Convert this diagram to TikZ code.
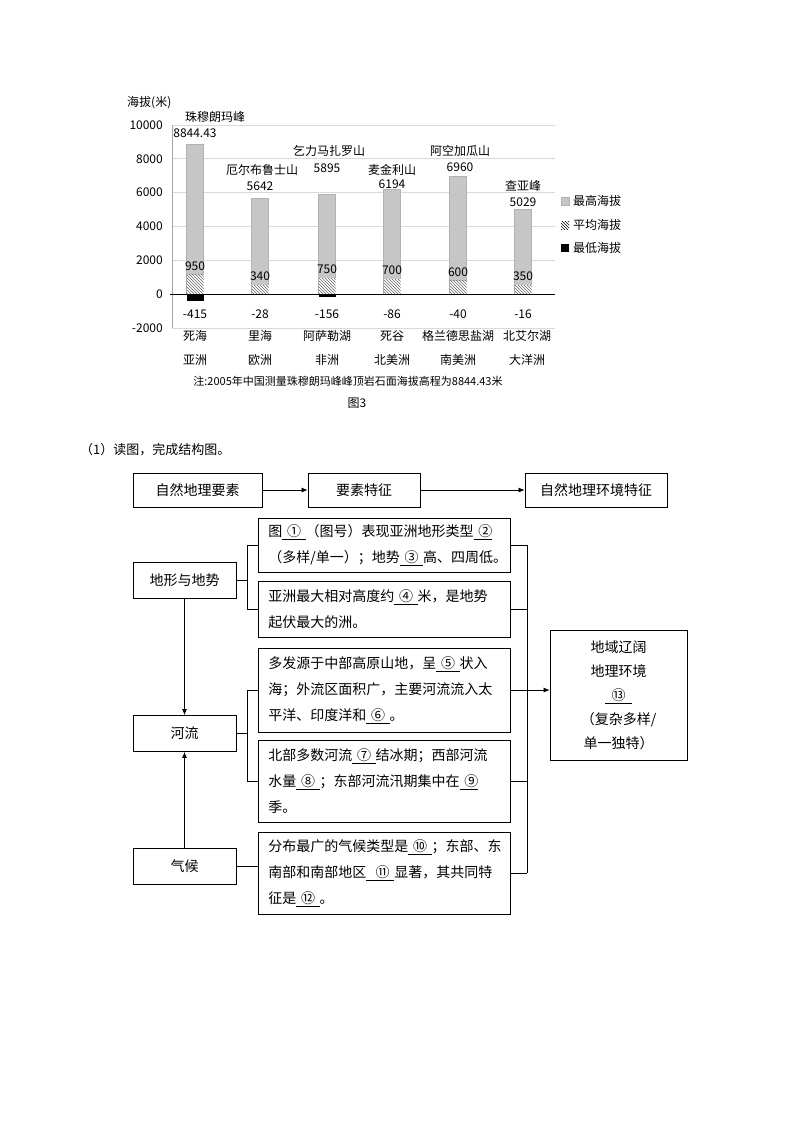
\documentclass[tikz,border=0pt]{standalone}
\usepackage{fontspec}
\setmainfont{Noto Sans CJK SC}
\usetikzlibrary{patterns,arrows.meta}
\begin{document}
\begin{tikzpicture}[x=1pt,y=-1pt,
  lab/.style={font=\fontsize{12}{14}\selectfont,inner sep=0pt},
  fbox/.style={draw,line width=0.8pt,font=\fontsize{14}{16}\selectfont},
  mbox/.style={draw,line width=0.8pt,minimum width=252pt,text width=232pt,align=left,font=\fontsize{14}{26}\selectfont,inner sep=0pt,anchor=north west},
  ln/.style={line width=0.7pt},
  arr/.style={ln,-{Latex[length=6pt,width=5pt]}}]
\useasboundingbox (0,0) rectangle (800,1132);
% ---------- chart ----------
\foreach \v in {2000,4000,6000,8000,10000}
  \draw[gray!30,line width=0.6pt] (172,{294-\v*0.0169}) -- (555,{294-\v*0.0169});
\draw[gray!30] (172,328) -- (555,328);
\draw[gray!70,line width=0.6pt] (172,125) -- (172,328);
\foreach \v/\t in {10000/10000,8000/8000,6000/6000,4000/4000,2000/2000,0/0,-2000/-2000}
  \node[lab,anchor=east] (yl\t) at (163,{294-\v*0.0169}) {\t};
\node[lab,anchor=west] (ytitle) at (127,103) {海拔(米)};
\foreach \i/\x/\h/\a/\l in {1/195/8844.43/950/415,2/260/5642/340/28,3/327/5895/750/156,4/392/6194/700/86,5/458/6960/600/40,6/523/5029/350/16}{
  \fill[gray!45,draw=gray!60] (\x-8.5,294) rectangle (\x+8.5,{294-\h*0.0169});
  \fill[white] (\x-8.5,294) rectangle (\x+8.5,{294-\a*0.0169-3});
  \fill[pattern=north west lines,pattern color=gray!80!black] (\x-8.5,294) rectangle (\x+8.5,{294-\a*0.0169-3});
  \fill[black] (\x-8.5,294) rectangle (\x+8.5,{294+\l*0.0169});
  \node[lab] (avg\i) at (\x,{294-\a*0.0169-12}) {\a};
  \node[lab] (low\i) at (\x,314) {-\l};
}
\draw[line width=1pt] (170,294) -- (555,294);
\node[lab] (p1) at (215,117) {珠穆朗玛峰};
\node[lab] (v1) at (195,133) {8844.43};
\node[lab] (p2) at (262,170) {厄尔布鲁士山};
\node[lab] (v2) at (260,186) {5642};
\node[lab] (p3) at (329,151) {乞力马扎罗山};
\node[lab] (v3) at (327,168) {5895};
\node[lab] (p4) at (392,170) {麦金利山};
\node[lab] (v4) at (392,184) {6194};
\node[lab] (p5) at (460,151) {阿空加瓜山};
\node[lab] (v5) at (460,167) {6960};
\node[lab] (p6) at (523,186) {查亚峰};
\node[lab] (v6) at (523,202) {5029};
\foreach \i/\x/\lk/\c in {1/195/死海/亚洲,2/260/里海/欧洲,3/327/阿萨勒湖/非洲,4/392/死谷/北美洲,5/458/格兰德思盐湖/南美洲,6/527/北艾尔湖/大洋洲}{
  \node[lab] (lk\i) at (\x,336) {\lk};
  \node[lab] (ct\i) at (\x,360) {\c};
}
\node[lab,font=\fontsize{11}{13}\selectfont] (note) at (348,381) {注:2005年中国测量珠穆朗玛峰峰顶岩石面海拔高程为8844.43米};
\node[lab] (fig) at (357,403) {图3};
% legend
\fill[gray!45,draw=gray!60] (561,197) rectangle (569,205);
\node[lab,anchor=west] (lg1) at (573,201) {最高海拔};
\fill[pattern=north west lines,pattern color=black] (561,221) rectangle (569,229);
\node[lab,anchor=west] (lg2) at (573,225) {平均海拔};
\fill[black] (561,244) rectangle (569,252);
\node[lab,anchor=west] (lg3) at (573,248) {最低海拔};
% ---------- question ----------
\node[anchor=west,font=\fontsize{13}{15}\selectfont,inner sep=0pt] (q) at (80,450) {（1）读图，完成结构图。};
% ---------- flowchart ----------
\node[fbox,minimum width=129pt,minimum height=34pt] (t1) at (197.5,490) {自然地理要素};
\node[fbox,minimum width=112pt,minimum height=34pt] (t2) at (364,490) {要素特征};
\node[fbox,minimum width=142pt,minimum height=34pt] (t3) at (596,490) {自然地理环境特征};
\draw[arr] (t1) -- (t2);
\draw[arr] (t2) -- (t3);
\node[fbox,minimum width=103pt,minimum height=36pt] (k1) at (184.5,580) {地形与地势};
\node[fbox,minimum width=103pt,minimum height=36pt] (k2) at (184.5,733.5) {河流};
\node[fbox,minimum width=103pt,minimum height=36pt] (k3) at (184.5,866) {气候};
\draw[arr] (k1) -- (k2);
\draw[arr] (k3) -- (k2);
\node[mbox,minimum height=54pt] (b1) at (258,518) {图\underline{\ ①\ }（图号）表现亚洲地形类型\underline{\ ②}\\（多样/单一）；地势\underline{\ ③\ }高、四周低。};
\node[mbox,minimum height=56pt] (b2) at (258,581) {亚洲最大相对高度约\underline{\ ④\ }米，是地势\\起伏最大的洲。};
\node[mbox,minimum height=84pt] (b3) at (258,648) {多发源于中部高原山地，呈\underline{\ ⑤\ }状入\\海；外流区面积广，主要河流流入太\\平洋、印度洋和\underline{\ ⑥\ }。};
\node[mbox,minimum height=82pt] (b4) at (258,740) {北部多数河流\underline{\ ⑦\ }结冰期；西部河流\\水量\underline{\ ⑧\ }；东部河流汛期集中在\underline{\ ⑨}\\季。};
\node[mbox,minimum height=82pt] (b5) at (258,832) {分布最广的气候类型是\underline{\ ⑩\ }；东部、东\\南部和南部地区\underline{\ \ ⑪\ }显著，其共同特\\征是\underline{\ ⑫\ }。};
\node[fbox,minimum width=137pt,minimum height=130pt,align=center,font=\fontsize{14}{24}\selectfont] (r) at (618.5,695) {地域辽阔\\地理环境\\\underline{\ \ ⑬\ \ }\\（复杂多样/\\单一独特）};
% brackets left
\coordinate (L1) at (247,545);
\coordinate (L2) at (247,609);
\draw[ln] (k1.east) -- (247,580);
\draw[ln] (L1) -- (L2);
\draw[ln] (L1) -- (L1-|b1.west);
\draw[ln] (L2) -- (L2-|b2.west);
\coordinate (M1) at (247,690);
\coordinate (M2) at (247,781);
\draw[ln] (k2.east) -- (247,733.5);
\draw[ln] (M1) -- (M2);
\draw[ln] (M1) -- (M1-|b3.west);
\draw[ln] (M2) -- (M2-|b4.west);
\draw[ln] (k3.east) -- (k3.east-|b5.west);
% brackets right
\coordinate (R1) at (527,545);
\coordinate (R5) at (527,873);
\draw[ln] (R1) -- (R5);
\draw[ln] (b1.east|-R1) -- (R1);
\draw[ln] (b2.east|-L2) -- (527,609);
\draw[ln] (b3.east|-M1) -- (527,690);
\draw[ln] (b4.east|-M2) -- (527,781);
\draw[ln] (b5.east|-R5) -- (R5);
\draw[arr] (527,690) -- (r.west|-0,690);
\end{tikzpicture}
\end{document}
